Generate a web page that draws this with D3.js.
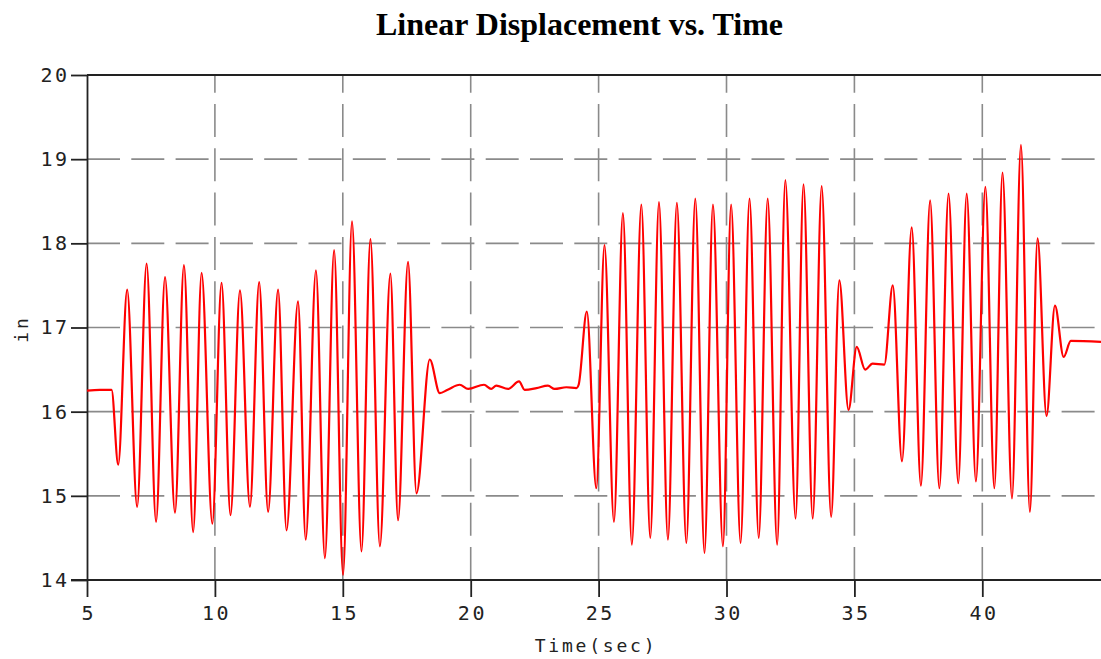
<!DOCTYPE html>
<html>
<head>
<meta charset="utf-8">
<script src="https://cdn.jsdelivr.net/npm/d3@7"></script>
<style>
  html, body { margin: 0; padding: 0; background: #fff; }
  svg { display: block; }
</style>
</head>
<body>
<svg id="chart" width="1101" height="659"></svg>
<script>
// ---- data ----
const chartTitle = "Linear Displacement vs. Time";
const xTitle = "Time(sec)";
const yTitle = "in";
const xTicks = [5, 10, 15, 20, 25, 30, 35, 40];
const yTicks = [14, 15, 16, 17, 18, 19, 20];

const timeSec = [
  5.0, 5.5, 5.96, 6.22, 6.57, 6.96, 7.33, 7.70, 8.05, 8.44, 8.79, 9.15, 9.48, 9.90,
  10.26, 10.61, 10.98, 11.37, 11.73, 12.08, 12.47, 12.80, 13.25, 13.55, 13.95, 14.30,
  14.66, 15.01, 15.36, 15.73, 16.08, 16.45, 16.86, 17.16, 17.55, 17.88, 18.40, 18.79,
  19.10, 19.57, 19.90, 20.52, 20.80, 21.00, 21.46, 21.89, 22.11, 22.57, 23.02, 23.28,
  23.74, 24.13, 24.22, 24.54, 24.91, 25.23, 25.60, 25.95, 26.30, 26.67, 27.02, 27.36,
  27.71, 28.06, 28.43, 28.78, 29.14, 29.47, 29.86, 30.18, 30.55, 30.90, 31.26, 31.61,
  31.98, 32.30, 32.70, 33.01, 33.37, 33.72, 34.09, 34.41, 34.77, 35.09, 35.42, 35.71,
  36.17, 36.50, 36.86, 37.24, 37.60, 37.96, 38.32, 38.68, 39.06, 39.39, 39.75, 40.12,
  40.47, 40.79, 41.16, 41.51, 41.86, 42.16, 42.51, 42.84, 43.18, 43.46, 44.64
];
const displacementIn = [
  16.25, 16.26, 16.26, 15.37, 17.45, 14.87, 17.76, 14.69, 17.60, 14.80, 17.74, 14.57, 17.65, 14.67,
  17.53, 14.77, 17.44, 14.87, 17.54, 14.81, 17.45, 14.59, 17.31, 14.48, 17.68, 14.26,
  17.92, 14.06, 18.26, 14.34, 18.05, 14.40, 17.64, 14.71, 17.78, 15.03, 16.62, 16.22,
  16.26, 16.32, 16.27, 16.32, 16.27, 16.31, 16.27, 16.36, 16.26, 16.28, 16.31, 16.27,
  16.29, 16.28, 16.32, 17.19, 15.09, 17.98, 14.69, 18.36, 14.42, 18.46, 14.50, 18.49,
  14.48, 18.48, 14.44, 18.53, 14.32, 18.46, 14.40, 18.46, 14.44, 18.53, 14.50, 18.53,
  14.42, 18.75, 14.73, 18.70, 14.73, 18.68, 14.75, 17.56, 16.02, 16.77, 16.50, 16.57,
  16.56, 17.50, 15.41, 18.19, 15.12, 18.51, 15.09, 18.59, 15.15, 18.59, 15.17, 18.67,
  15.09, 18.84, 14.97, 19.17, 14.81, 18.06, 15.95, 17.26, 16.65, 16.84, 16.83
];

// ---- layout ----
const svg = d3.select("#chart");
const plotLeft = 87, plotRight = 1101, plotTop = 75, plotBottom = 580;

const x = d3.scaleLinear().domain([5, 44.64]).range([plotLeft, plotRight]);
const y = d3.scaleLinear().domain([14, 20]).range([plotBottom, plotTop]);

const monoFont = "'DejaVu Sans Mono', 'Liberation Mono', monospace";

// title
svg.append("text")
  .attr("x", 579.5).attr("y", 35)
  .attr("text-anchor", "middle")
  .style("font-family", "'Liberation Serif', 'Times New Roman', serif")
  .style("font-weight", "bold")
  .style("font-size", "32px")
  .text(chartTitle);

// grid lines
const grid = svg.append("g").attr("stroke", "#8a8a8a").attr("stroke-width", 1.6)
  .attr("stroke-dasharray", "33 11.3");
grid.selectAll("line.h").data(yTicks.filter(v => v > 14 && v < 20)).join("line")
  .attr("class", "h")
  .attr("x1", plotLeft).attr("x2", plotRight)
  .attr("y1", d => y(d)).attr("y2", d => y(d));
grid.selectAll("line.v").data(xTicks.filter(v => v > 5)).join("line")
  .attr("class", "v")
  .attr("x1", d => x(d)).attr("x2", d => x(d))
  .attr("y1", plotBottom).attr("y2", plotTop);

// top border
svg.append("line")
  .attr("x1", plotLeft).attr("x2", plotRight).attr("y1", plotTop).attr("y2", plotTop)
  .attr("stroke", "#222").attr("stroke-width", 1.8);

// axes
const xAxis = d3.axisBottom(x).tickValues(xTicks).tickSize(17).tickSizeOuter(0).tickPadding(9)
  .tickFormat(d3.format("d"));
const yAxis = d3.axisLeft(y).tickValues(yTicks).tickSize(16).tickSizeOuter(0).tickPadding(4)
  .tickFormat(d3.format("d"));

const gx = svg.append("g").attr("transform", `translate(0,${plotBottom})`).call(xAxis);
const gy = svg.append("g").attr("transform", `translate(${plotLeft},0)`).call(yAxis);

[gx, gy].forEach(g => {
  g.select(".domain").attr("stroke", "#222").attr("stroke-width", 1.8);
  g.selectAll(".tick line").attr("stroke", "#222").attr("stroke-width", 1.8);
  g.selectAll(".tick text")
    .attr("fill", "#222")
    .style("font-family", monoFont)
    .style("font-size", "20px")
    .style("letter-spacing", "2.5px");
});
gx.selectAll(".tick text").attr("dx", "1.2px");
gy.selectAll(".tick text").attr("dx", "2.5px");
gx.select(".domain").attr("d", `M${plotLeft - 16},0H${plotRight}`);

// axis titles
svg.append("text")
  .attr("x", 596).attr("y", 652)
  .attr("text-anchor", "middle")
  .attr("fill", "#222")
  .style("font-family", monoFont)
  .style("font-size", "18px")
  .style("letter-spacing", "2.8px")
  .text(xTitle);

svg.append("text")
  .attr("transform", "translate(28,329) rotate(-90)")
  .attr("text-anchor", "middle")
  .attr("fill", "#222")
  .style("font-family", monoFont)
  .style("font-size", "18px")
  .style("letter-spacing", "2.8px")
  .text(yTitle);

// data line
const pts = timeSec.map((t, i) => [t, displacementIn[i]]);
const line = d3.line()
  .x(d => x(d[0]))
  .y(d => y(d[1]))
  .curve(d3.curveMonotoneX);

svg.append("path")
  .datum(pts)
  .attr("fill", "none")
  .attr("stroke", "#ff0000")
  .attr("stroke-width", 2.2)
  .attr("stroke-linejoin", "round")
  .attr("d", line);
</script>
</body>
</html>
